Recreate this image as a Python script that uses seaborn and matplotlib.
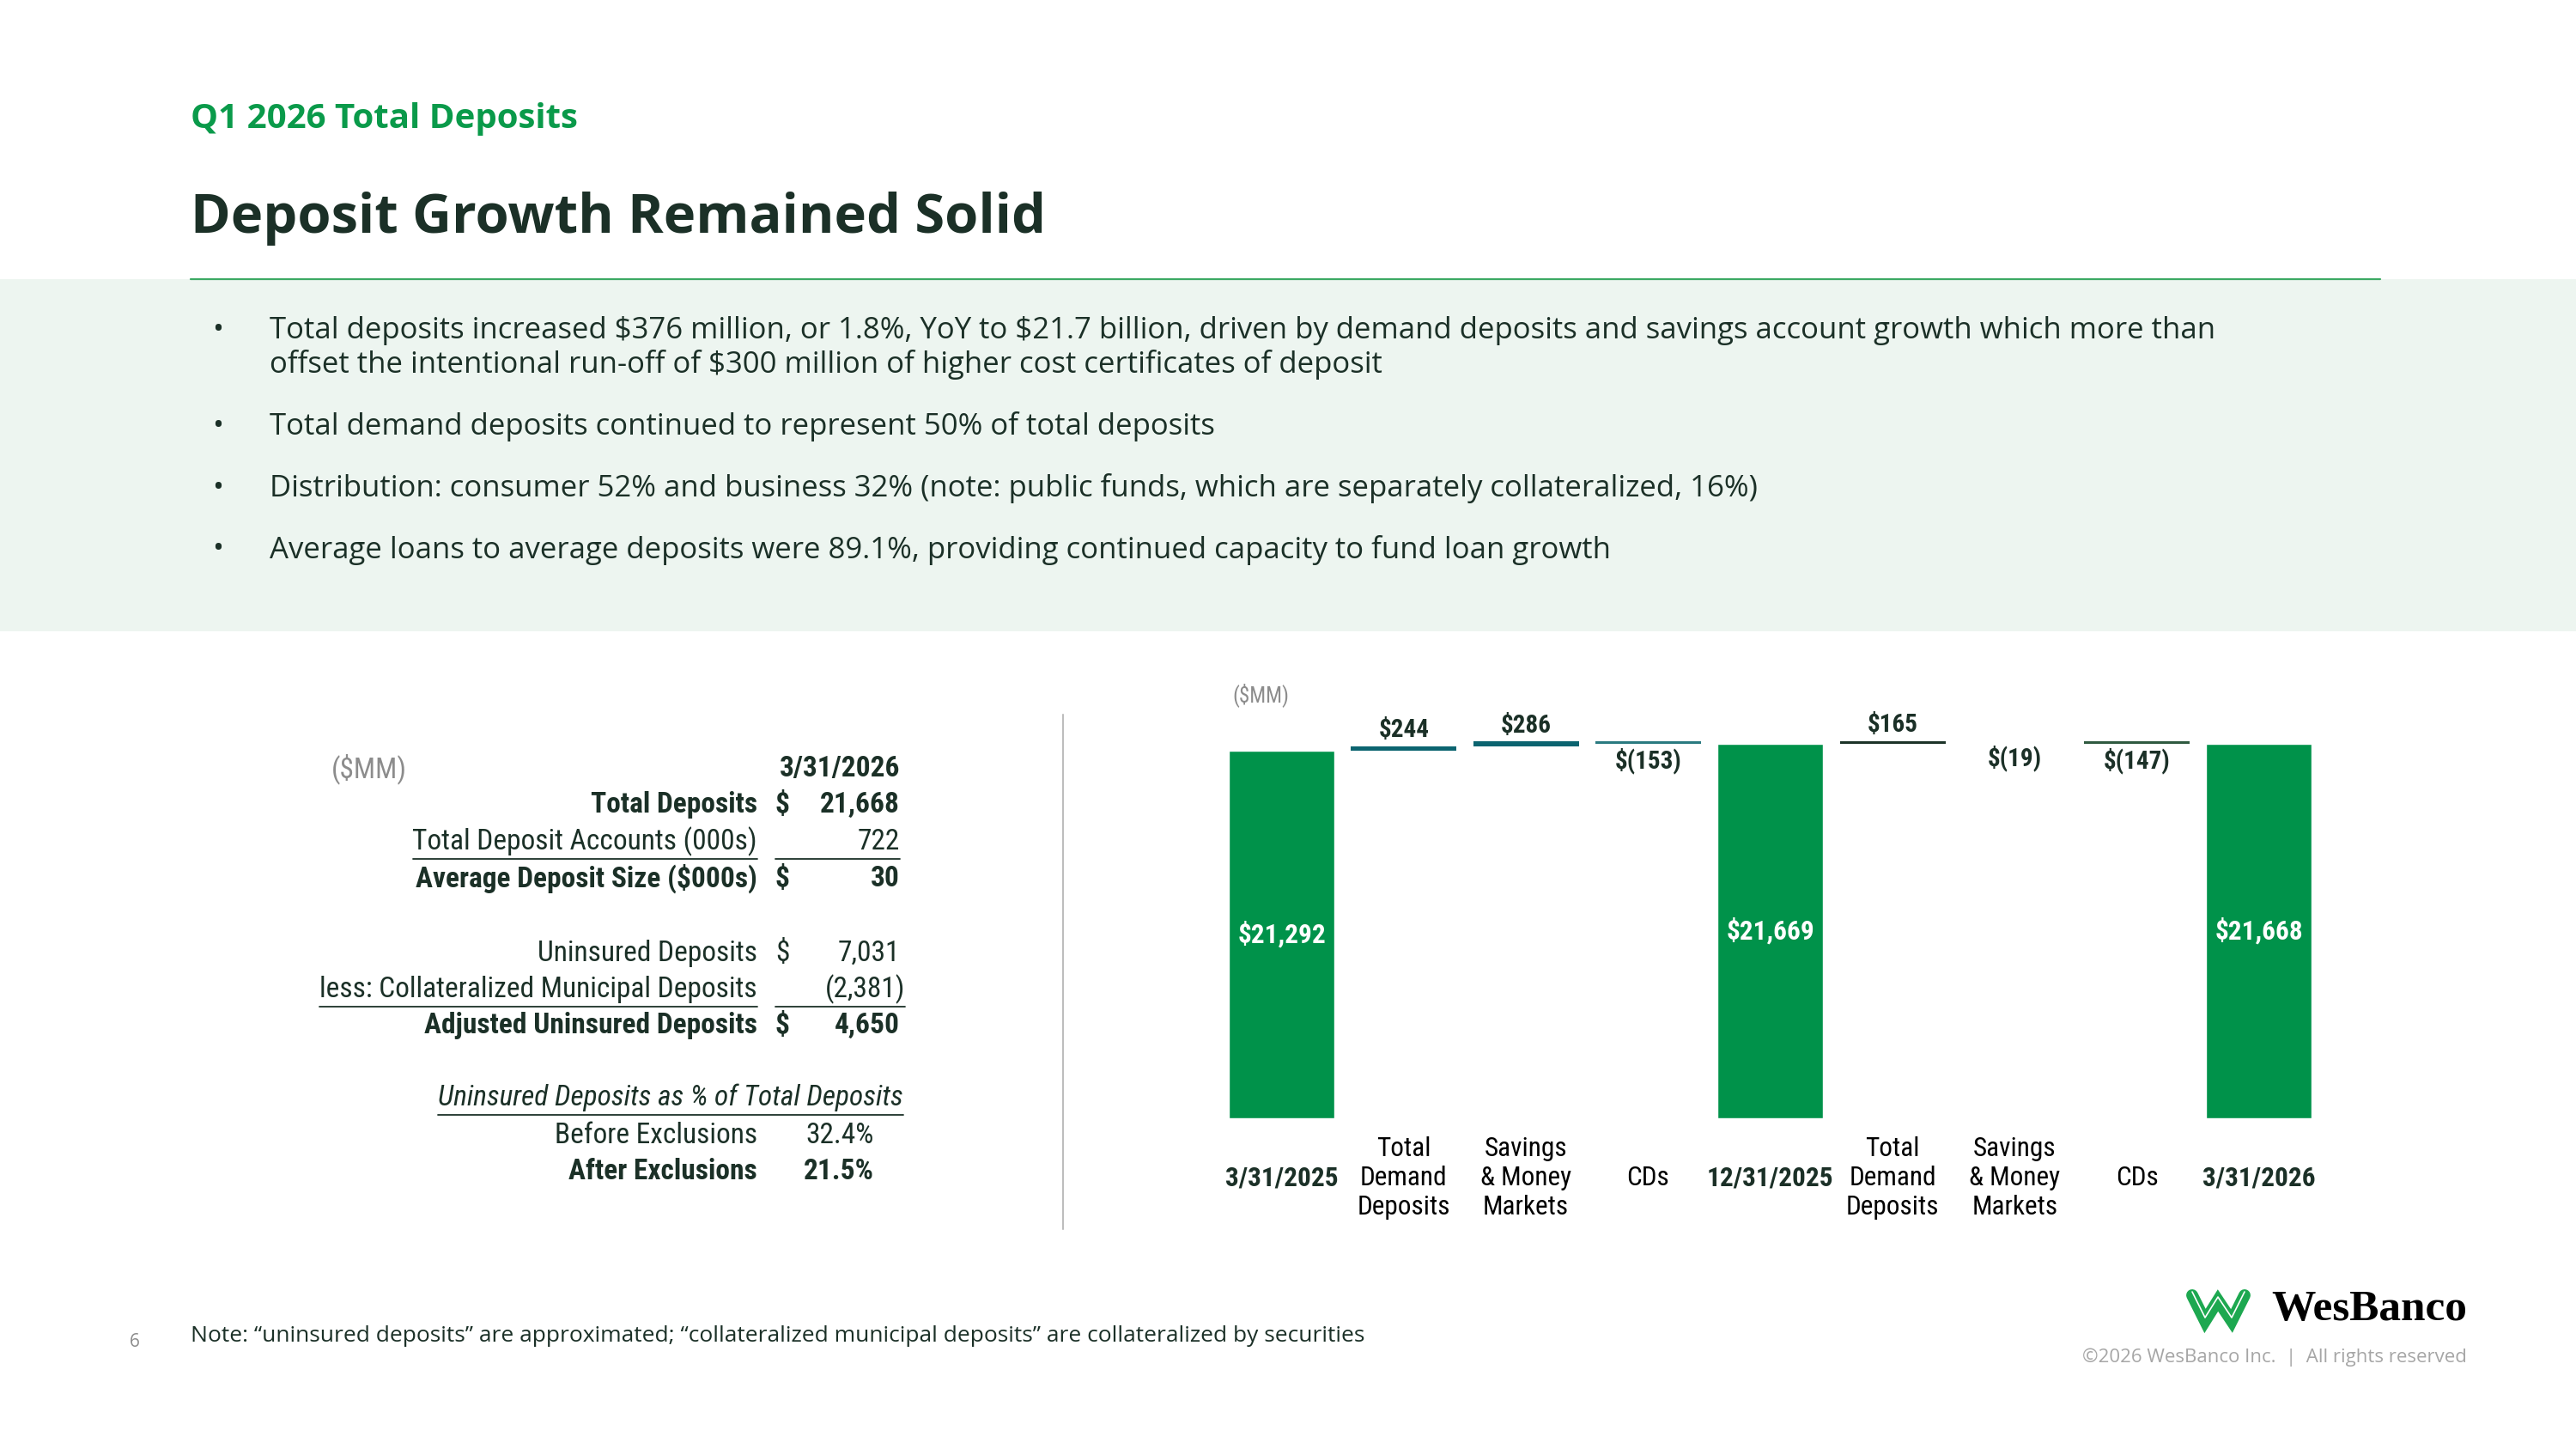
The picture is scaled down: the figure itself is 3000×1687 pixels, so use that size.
import matplotlib
matplotlib.use("Agg")
import matplotlib.pyplot as plt
import seaborn as sns
import pandas as pd
from matplotlib import font_manager as fm
from matplotlib.lines import Line2D
from matplotlib.patches import Rectangle

# ── Data ─────────────────────────────────────────────────────────────────────
STEP_KEYS = ["q0", "d1", "s1", "c1", "q1", "d2", "s2", "c2", "q2"]
STEP_LABELS = ["3/31/2025", "Total\nDemand\nDeposits", "Savings\n& Money\nMarkets", "CDs",
               "12/31/2025", "Total\nDemand\nDeposits", "Savings\n& Money\nMarkets", "CDs",
               "3/31/2026"]
TOTAL_KEYS = ["q0", "q1", "q2"]
TOTALS = [21292, 21669, 21668]
DELTA_KEYS = ["d1", "s1", "c1", "d2", "s2", "c2"]
DELTAS = [244, 286, -153, 165, -19, -147]

TABLE_LABELS = ["Total Deposits", "Total Deposit Accounts (000s)", "Average Deposit Size ($000s)",
                "Uninsured Deposits", "less: Collateralized Municipal Deposits",
                "Adjusted Uninsured Deposits"]
TABLE_VALUES = ["21,668", "722", "30", "7,031", "(2,381)", "4,650"]
TABLE_DOLLAR = [True, False, True, True, False, True]
PCT_HEADER = "Uninsured Deposits as % of Total Deposits"
PCT_LABELS = ["Before Exclusions", "After Exclusions"]
PCT_VALUES = ["32.4%", "21.5%"]

BULLETS = [
    ["Total deposits increased $376 million, or 1.8%, YoY to $21.7 billion, driven by demand deposits and savings account growth which more than",
     "offset the intentional run-off of $300 million of higher cost certificates of deposit"],
    ["Total demand deposits continued to represent 50% of total deposits"],
    ["Distribution: consumer 52% and business 32% (note: public funds, which are separately collateralized, 16%)"],
    ["Average loans to average deposits were 89.1%, providing continued capacity to fund loan growth"],
]

# ── Style ────────────────────────────────────────────────────────────────────
W, H, DPI = 3000, 1687, 100
GREEN = "#00924A"
BRIGHT = "#0A9A4A"
DARK = "#1B3027"
GREY = "#8C8C8C"
BAND = "#EDF5F0"
DELTA_COLORS = ["#0B6470", "#0B6470", "#2A7A80", "#1C3328", "#E6DCCB", "#2F5A40"]

# pick installed families (need a real bold face for the headings)
weights = {}
for f in fm.fontManager.ttflist:
    w = f.weight if isinstance(f.weight, int) else fm.weight_dict.get(f.weight, 400)
    weights.setdefault(f.name, set()).add(w)


def pick(prefs, bold=False):
    for name in prefs:
        if name in weights and (not bold or max(weights[name]) >= 600):
            return name
    return "DejaVu Sans"


HEAD = pick(["Open Sans", "Noto Sans", "Lato", "Roboto"], bold=True)
BODY = pick(["Open Sans", "Noto Sans", "Lato"])
NARROW = pick(["Liberation Sans Narrow", "Roboto Condensed", "Open Sans Condensed", "Roboto",
               "Lato"], bold=True)

sns.set_theme(style="white")
plt.rcParams["font.family"] = [BODY, "DejaVu Sans"]


def fx(x):
    return x / W


def fy(y):
    return 1 - y / H


def money(v):
    return f"${v:,.0f}" if v >= 0 else f"$({-v:,.0f})"


fig = plt.figure(figsize=(W / DPI, H / DPI), dpi=DPI)
fig.patch.set_facecolor("white")

# ── Header ───────────────────────────────────────────────────────────────────
fig.add_artist(Rectangle((0, fy(735)), 1, fy(325) - fy(735), transform=fig.transFigure,
                         facecolor=BAND, edgecolor="none", zorder=0))
fig.add_artist(Line2D([fx(222), fx(2772)], [fy(325), fy(325)], transform=fig.transFigure,
                      color="#3DAA64", lw=1.6))
fig.text(fx(222), fy(138), "Q1 2026 Total Deposits", fontsize=29, fontweight="bold",
         color=BRIGHT, va="center", ha="left", family=HEAD)
fig.text(fx(222), fy(255), "Deposit Growth Remained Solid", fontsize=45.5, fontweight="bold",
         color=DARK, va="center", ha="left", family=HEAD)

line_y = [[385, 425], [497], [569], [640]]
for lines, ys in zip(BULLETS, line_y):
    fig.text(fx(247), fy(ys[0]), "•", fontsize=25, color=DARK, va="center", ha="left")
    for txt, y in zip(lines, ys):
        fig.text(fx(314), fy(y), txt, fontsize=25, color=DARK, va="center", ha="left",
                 parse_math=False)

# ── Left table ───────────────────────────────────────────────────────────────
TBL_FS = 24
row_y = [937, 980, 1023, 1110, 1152, 1194]
bold_rows = {0, 2, 5}
underline_rows = {1, 4}
fig.text(fx(386), fy(895), "($MM)", fontsize=TBL_FS, color=GREY, va="center", ha="left",
         family=NARROW, parse_math=False)
fig.text(fx(1048), fy(895), "3/31/2026", fontsize=TBL_FS, color=DARK, va="center", ha="right",
         family=NARROW, fontweight="bold")

underlined = []
for i, (lab, val, dol) in enumerate(zip(TABLE_LABELS, TABLE_VALUES, TABLE_DOLLAR)):
    w = "bold" if i in bold_rows else "normal"
    t = fig.text(fx(882), fy(row_y[i]), lab, fontsize=TBL_FS, color=DARK, va="center",
                 ha="right", family=NARROW, fontweight=w, parse_math=False)
    if dol:
        fig.text(fx(903), fy(row_y[i]), "$", fontsize=TBL_FS, color=DARK, va="center",
                 ha="left", family=NARROW, fontweight=w, parse_math=False)
    right = 1054 if val.startswith("(") else 1048
    fig.text(fx(right), fy(row_y[i]), val, fontsize=TBL_FS, color=DARK, va="center",
             ha="right", family=NARROW, fontweight=w)
    if i in underline_rows:
        underlined.append((t, row_y[i]))
        fig.add_artist(Line2D([fx(903), fx(right)], [fy(row_y[i] + 20)] * 2,
                              transform=fig.transFigure, color=DARK, lw=1.3))

hdr = fig.text(fx(1052), fy(1278), PCT_HEADER, fontsize=TBL_FS, color=DARK, va="center",
               ha="right", family=NARROW, style="italic")
underlined.append((hdr, 1278))
for lab, val, y, w in zip(PCT_LABELS, PCT_VALUES, [1322, 1364], ["normal", "bold"]):
    fig.text(fx(882), fy(y), lab, fontsize=TBL_FS, color=DARK, va="center", ha="right",
             family=NARROW, fontweight=w)
    fig.text(fx(1018), fy(y), val, fontsize=TBL_FS, color=DARK, va="center", ha="right",
             family=NARROW, fontweight=w)

# divider between table and chart
fig.add_artist(Line2D([fx(1238), fx(1238)], [fy(832), fy(1431)], transform=fig.transFigure,
                      color="#BDBDBD", lw=1.5))

# ── Waterfall chart ──────────────────────────────────────────────────────────
ax = fig.add_axes([0.4738, 0.2282, 0.4269, 0.2863])
totals_df = pd.DataFrame({"step": TOTAL_KEYS, "value": TOTALS})
sns.barplot(data=totals_df, x="step", y="value", order=STEP_KEYS, color=GREEN,
            saturation=1, width=0.865, ax=ax)
ax.bar_label(ax.containers[0], fmt=lambda v: "" if v != v else money(v), label_type="center",
             color="white", fontsize=22.5, fontweight="bold", family=NARROW)

# floating bars start from the preceding total
bottoms, pos = [], []
run, t_i = None, 0
for i, key in enumerate(STEP_KEYS):
    if key in TOTAL_KEYS:
        run = TOTALS[t_i]
        t_i += 1
    else:
        d = DELTAS[DELTA_KEYS.index(key)]
        bottoms.append(run)
        pos.append(i)
        run += d
cont = ax.bar(pos, DELTAS, bottom=bottoms, width=0.865, color=DELTA_COLORS, linewidth=0)
ax.bar_label(cont, labels=[money(d) for d in DELTAS], padding=3, color=DARK, fontsize=21,
             fontweight="bold", family=NARROW)

ax.set_xlim(-0.5, len(STEP_KEYS) - 0.5)
ax.set_ylim(0, 24000)
ax.set_yticks([])
ax.set_xlabel("")
ax.set_ylabel("")
ax.set_xticks(range(len(STEP_KEYS)))
ax.set_xticklabels(STEP_LABELS)
ax.tick_params(axis="x", length=0, pad=50)
for i, lab in enumerate(ax.get_xticklabels()):
    lab.set_verticalalignment("center")
    lab.set_multialignment("center")
    lab.set_family(NARROW)
    lab.set_fontsize(22.5)
    lab.set_color("black" if STEP_KEYS[i] not in TOTAL_KEYS else DARK)
    if STEP_KEYS[i] in TOTAL_KEYS:
        lab.set_fontweight("bold")
sns.despine(ax=ax, left=True, bottom=True)
ax.set_facecolor("none")

fig.text(fx(1435), fy(809), "($MM)", fontsize=18, color=GREY, va="center", ha="left",
         family=NARROW, parse_math=False)

# ── Footer ───────────────────────────────────────────────────────────────────
fig.text(fx(157), fy(1563), "6", fontsize=15, color=GREY, va="center", ha="center")
fig.text(fx(222), fy(1555),
         "Note: \u201cuninsured deposits\u201d are approximated; \u201ccollateralized municipal "
         "deposits\u201d are collateralized by securities",
         fontsize=19, color=DARK, va="center", ha="left")
fig.text(fx(2873), fy(1580), "\u00a92026 WesBanco Inc.  |  All rights reserved", fontsize=16,
         color="#A6A6A6", va="center", ha="right")
fig.text(fx(2873), fy(1525), "WesBanco", fontsize=37, fontweight="bold", color="black",
         va="center", ha="right", family=["Liberation Serif", "DejaVu Serif"])
wx = [2553, 2568, 2583, 2599, 2614]
wy = [1508, 1538, 1514, 1538, 1508]
fig.add_artist(Line2D([fx(x) for x in wx], [fy(y) for y in wy], transform=fig.transFigure,
                      color="#1DA850", lw=10, solid_joinstyle="miter"))
fig.add_artist(Line2D([fx(x) for x in wx], [fy(y - 4) for y in wy], transform=fig.transFigure,
                      color="white", lw=1.2))

# underline label text using its rendered extent
fig.canvas.draw()
renderer = fig.canvas.get_renderer()
for t, y in underlined:
    bb = t.get_window_extent(renderer)
    fig.add_artist(Line2D([bb.x0 / W, bb.x1 / W], [fy(y + 20)] * 2, transform=fig.transFigure,
                          color=DARK, lw=1.3))

fig.savefig("out.png", dpi=DPI, facecolor="white")
